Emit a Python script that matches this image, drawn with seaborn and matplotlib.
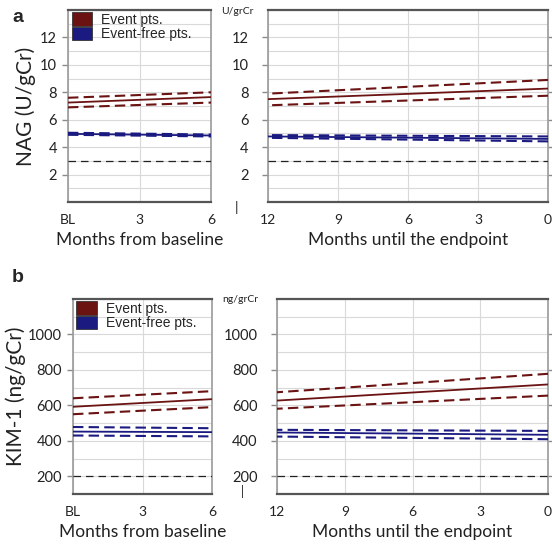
import numpy as np
import pandas as pd
import seaborn as sns
import matplotlib.pyplot as plt
from matplotlib.patches import Patch
from matplotlib.ticker import MultipleLocator

# values (end points of the fitted lines)
left_months = [0, 6]
right_months = [12, 0]

nag_left_event_mean = [7.25, 7.65]
nag_left_event_upper = [7.6, 8.0]
nag_left_event_lower = [6.9, 7.25]
nag_left_free_mean = [4.97, 4.85]
nag_left_free_upper = [5.05, 4.92]
nag_left_free_lower = [4.9, 4.78]

nag_right_event_mean = [7.5, 8.27]
nag_right_event_upper = [7.9, 8.9]
nag_right_event_lower = [7.05, 7.75]
nag_right_free_mean = [4.78, 4.6]
nag_right_free_upper = [4.88, 4.78]
nag_right_free_lower = [4.68, 4.42]
nag_ref = 3

kim_left_event_mean = [592, 635]
kim_left_event_upper = [640, 680]
kim_left_event_lower = [550, 590]
kim_left_free_mean = [452, 449]
kim_left_free_upper = [478, 471]
kim_left_free_lower = [430, 425]

kim_right_event_mean = [627, 718]
kim_right_event_upper = [674, 778]
kim_right_event_lower = [581, 655]
kim_right_free_mean = [447, 434]
kim_right_free_upper = [462, 456]
kim_right_free_lower = [424, 409]
kim_ref = 200

left_ticks = [0, 3, 6]
left_ticklabels = ['BL', '3', '6']
right_ticks = [12, 9, 6, 3, 0]

RED = '#6b1212'
BLUE = '#1a1a80'
GRID = '#d9d9d9'

sns.set_theme(style='white')
plt.rcParams['font.family'] = ['Lato', 'DejaVu Sans']


def build(months, ev_m, ev_u, ev_l, fr_m, fr_u, fr_l):
    rows = []
    for name, vals in [('ev_mean', ev_m), ('ev_up', ev_u), ('ev_lo', ev_l),
                       ('fr_mean', fr_m), ('fr_up', fr_u), ('fr_lo', fr_l)]:
        for m, v in zip(months, vals):
            rows.append({'month': m, 'value': v, 'series': name})
    return pd.DataFrame(rows)


def draw(ax, df, ref):
    for name in ['fr_up', 'fr_lo', 'fr_mean', 'ev_up', 'ev_lo', 'ev_mean']:
        d = df[df.series == name]
        color = RED if name.startswith('ev') else BLUE
        if name.endswith('mean'):
            sns.lineplot(data=d, x='month', y='value', ax=ax, color=color,
                         lw=1.3, zorder=4)
        else:
            sns.lineplot(data=d, x='month', y='value', ax=ax, color=color,
                         lw=1.5, linestyle=(0, (5, 2.5)), zorder=3)
    ax.axhline(ref, color='#222222', lw=0.9, linestyle=(0, (6, 4)), zorder=3)
    ax.set_xlabel('')
    ax.set_ylabel('')


def style(ax, yticks, minor, ylim, xlim, xticks, xticklabels, xlabel, right_panel):
    ax.set_ylim(*ylim)
    ax.set_xlim(*xlim)
    ax.set_yticks(yticks)
    ax.yaxis.set_minor_locator(MultipleLocator(minor))
    ax.set_xticks(xticks)
    ax.set_xticklabels(xticklabels)
    ax.grid(which='major', axis='both', color=GRID, lw=0.8, zorder=0)
    ax.grid(which='minor', axis='y', color=GRID, lw=0.8, zorder=0)
    for s in ['left', 'right']:
        ax.spines[s].set_color('#9a9a9a')
        ax.spines[s].set_linewidth(1.2)
    for s in ['top', 'bottom']:
        ax.spines[s].set_color('#555555')
        ax.spines[s].set_linewidth(1.6)
    ax.tick_params(axis='x', length=0, pad=9, labelsize=10, colors='#222222')
    ax.tick_params(axis='y', which='major', length=4, width=1, color='#8a8a8a',
                   left=True, labelsize=10.5, labelcolor='#222222',
                   pad=10 if right_panel else 4)
    if right_panel:
        ax.tick_params(axis='y', which='major', right=True)
    ax.tick_params(axis='y', which='minor', length=0)
    ax.set_xlabel(xlabel, fontsize=12.5, labelpad=4, color='#222222')


def legend(ax):
    handles = [Patch(facecolor=RED, edgecolor='#333333', lw=0.6),
               Patch(facecolor=BLUE, edgecolor='#333333', lw=0.6)]
    ax.legend(handles, ['Event pts.', 'Event-free pts.'], loc='upper left',
              bbox_to_anchor=(0.01, 1.0), frameon=False, labelspacing=0,
              handlelength=1.5, handleheight=1.15, handletextpad=0.6,
              borderpad=0.15, borderaxespad=0,
              prop={'family': 'Liberation Sans', 'size': 10})


fig = plt.figure(figsize=(5.52, 5.44), dpi=100)
W, H = 552, 544


def box(x0, x1, y0, y1):
    return [x0 / W, 1 - y1 / H, (x1 - x0) / W, (y1 - y0) / H]


ax_a1 = fig.add_axes(box(68, 211, 10, 202))
ax_a2 = fig.add_axes(box(268, 548, 10, 202))
ax_b1 = fig.add_axes(box(73, 212, 299, 494))
ax_b2 = fig.add_axes(box(277, 548, 299, 494))

nag_l = build(left_months, nag_left_event_mean, nag_left_event_upper, nag_left_event_lower,
              nag_left_free_mean, nag_left_free_upper, nag_left_free_lower)
nag_r = build(right_months, nag_right_event_mean, nag_right_event_upper, nag_right_event_lower,
              nag_right_free_mean, nag_right_free_upper, nag_right_free_lower)
kim_l = build(left_months, kim_left_event_mean, kim_left_event_upper, kim_left_event_lower,
              kim_left_free_mean, kim_left_free_upper, kim_left_free_lower)
kim_r = build(right_months, kim_right_event_mean, kim_right_event_upper, kim_right_event_lower,
              kim_right_free_mean, kim_right_free_upper, kim_right_free_lower)

draw(ax_a1, nag_l, nag_ref)
draw(ax_a2, nag_r, nag_ref)
draw(ax_b1, kim_l, kim_ref)
draw(ax_b2, kim_r, kim_ref)

nag_ticks = [2, 4, 6, 8, 10, 12]
kim_ticks = [200, 400, 600, 800, 1000]
style(ax_a1, nag_ticks, 1, (0, 14), (0, 6), left_ticks, left_ticklabels,
      'Months from baseline', False)
style(ax_a2, nag_ticks, 1, (0, 14), (12, 0), right_ticks, [str(t) for t in right_ticks],
      'Months until the endpoint', True)
style(ax_b1, kim_ticks, 100, (100, 1200), (0, 6), left_ticks, left_ticklabels,
      'Months from baseline', False)
style(ax_b2, kim_ticks, 100, (100, 1200), (12, 0), right_ticks, [str(t) for t in right_ticks],
      'Months until the endpoint', True)

ax_a1.set_ylabel('NAG (U/gCr)', fontsize=15, labelpad=3, color='#222222')
ax_b1.set_ylabel('KIM-1 (ng/gCr)', fontsize=15, labelpad=1, color='#222222')

legend(ax_a1)
legend(ax_b1)

fig.text(12 / W, 1 - 17 / H, 'a', fontsize=14, fontweight='bold', family='Liberation Sans',
         ha='left', va='center')
fig.text(12 / W, 1 - 277 / H, 'b', fontsize=14, fontweight='bold', family='Liberation Sans',
         ha='left', va='center')
fig.text(237 / W, 1 - 11 / H, 'U/grCr', fontsize=7.5, ha='center', va='center', color='#222222')
fig.text(240 / W, 1 - 299 / H, 'ng/grCr', fontsize=7.5, ha='center', va='center', color='#222222')
fig.text(236 / W, 1 - 207 / H, '|', fontsize=10, ha='center', va='center', color='#222222')
fig.text(242 / W, 1 - 492 / H, '|', fontsize=9, ha='center', va='center', color='#222222')

fig.savefig('out.png', dpi=100)
